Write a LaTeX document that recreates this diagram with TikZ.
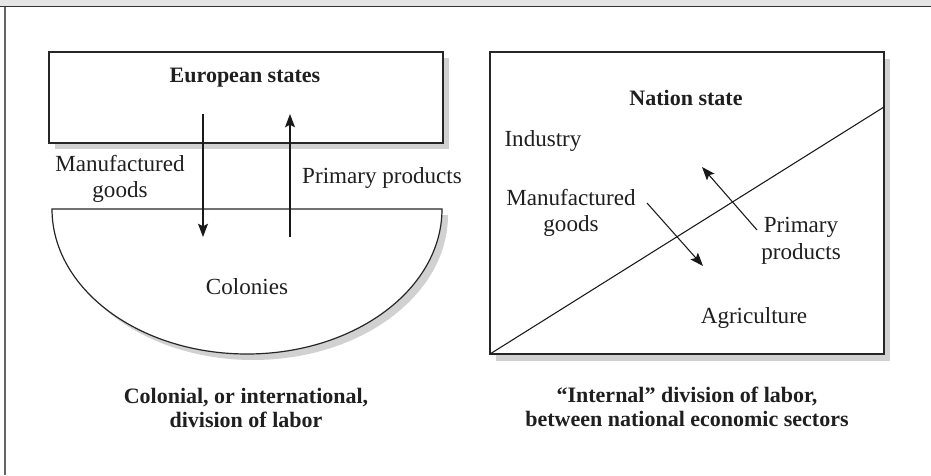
\documentclass[tikz,border=0pt]{standalone}
\usepackage{fontspec}
\setmainfont{Liberation Serif}
\usetikzlibrary{arrows.meta}
\begin{document}
\begin{tikzpicture}[x=0.75pt,y=-0.75pt,
  frame/.style={draw=black!85, line width=0.9pt, fill=white},
  shade/.style={fill=black!18, draw=none},
  flow/.style={line width=0.8pt, draw=black!90, -{Stealth[length=10pt,width=7.5pt,inset=2pt]}},
  plain/.style={line width=0.8pt, draw=black!90},
  lbl/.style={font=\fontsize{17.3}{20}\selectfont, align=center, inner sep=0pt, text=black!88},
  ttl/.style={font=\bfseries\fontsize{16.5}{18}\selectfont, align=center, inner sep=0pt, text=black!88}]
\useasboundingbox (0,0) rectangle (931,475);

% page header band and left rule
\fill[black!10] (0,0) rectangle (931,6);
\draw[black!80, line width=1.2pt] (0,6.5) -- (931,6.5);
\draw[black!60, line width=1.5pt] (4.5,6.5) -- (4.5,475);

% ---------- left panel: colonial division of labor ----------
\fill[shade] (55,58) rectangle (449,149);
\draw[frame] (49,52) rectangle (443,143);
\fill[shade] (448,215) -- (58,215)
  arc[start angle=180, end angle=360, x radius=146.25pt, y radius=108.75pt] -- cycle;
\draw[frame] (442,209) -- (52,209)
  arc[start angle=180, end angle=360, x radius=146.25pt, y radius=108.75pt] -- cycle;

\node[ttl] (eu) at (245,78) {European states};
\node[lbl] (col) at (247,287) {Colonies};
\node[lbl] (mgL) at (120,179) {Manufactured\\goods};
\node[lbl] (ppL) at (382,178) {Primary products};

\coordinate (mgLs) at (203,114);
\coordinate (mgLe) at (203,237);
\coordinate (ppLs) at (290,237);
\coordinate (ppLe) at (290,114);
\draw[flow] (mgLs) -- (mgLe);
\draw[flow] (ppLs) -- (ppLe);

\node[ttl] (capL) at (246,408) {Colonial, or international,\\division of labor};

% ---------- right panel: internal division of labor ----------
\fill[shade] (496,59) rectangle (890,361);
\draw[frame] (490,52) rectangle (884,354);
\coordinate (divA) at (490,354);
\coordinate (divB) at (884,107);
\draw[plain] (divA) -- (divB);

\node[ttl] (ns) at (686,98) {Nation state};
\node[lbl] (ind) at (543,141) {Industry};
\node[lbl] (mgR) at (571,213) {Manufactured\\goods};
\node[lbl] (ppR) at (801,241) {Primary\\products};
\node[lbl] (agr) at (754,318) {Agriculture};

\coordinate (mgRs) at (647,203);
\coordinate (mgRe) at (703,266);
\coordinate (ppRs) at (757,230);
\coordinate (ppRe) at (702,167);
\draw[flow] (mgRs) -- (mgRe);
\draw[flow] (ppRs) -- (ppRe);

\node[ttl] (capR) at (687,407) {``Internal'' division of labor,\\between national economic sectors};
\end{tikzpicture}
\end{document}
